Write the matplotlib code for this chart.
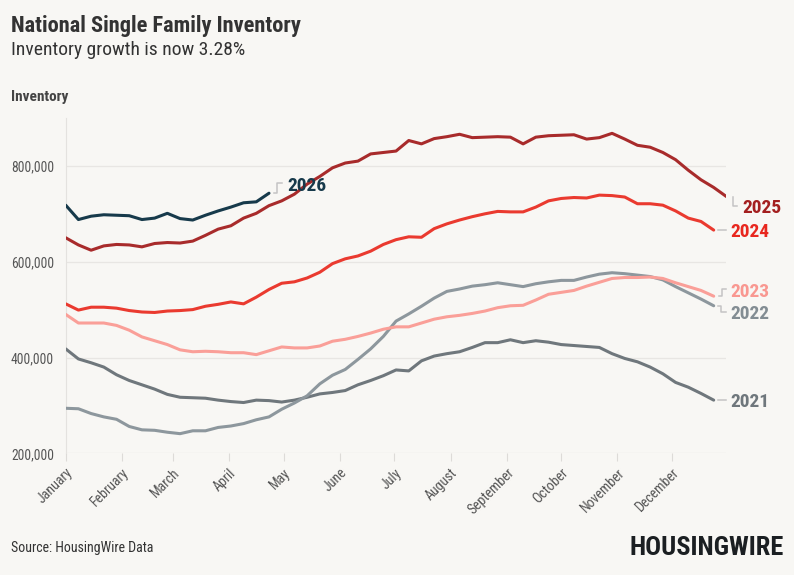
import matplotlib
matplotlib.use("Agg")
import matplotlib.pyplot as plt
from matplotlib import font_manager
from matplotlib.lines import Line2D
from matplotlib.ticker import FuncFormatter, FixedLocator
import matplotlib.dates as mdates
import pandas as pd
import numpy as np

# ---------------- data (thousands of homes, weekly) ----------------
inv_2021 = [418, 397, 389, 380, 364, 352, 343, 334, 323, 317, 316, 315, 311, 308, 306, 311,
            310, 307, 311, 317, 324, 327, 331, 343, 352, 362, 374, 372, 393, 403, 408, 412,
            421, 431, 431, 437, 431, 435, 432, 427, 425, 423, 421, 408, 398, 391, 380, 366,
            348, 338, 325, 311]
inv_2022 = [294, 293, 283, 276, 271, 256, 249, 248, 244, 241, 247, 247, 254, 257, 262, 270,
            276, 292, 305, 320, 345, 363, 375, 396, 418, 444, 476, 491, 507, 524, 538, 543,
            549, 552, 556, 552, 548, 554, 558, 561, 561, 568, 574, 577, 575, 572, 569, 562,
            548, 535, 522, 508]
inv_2023 = [490, 472, 472, 472, 467, 457, 443, 435, 427, 416, 412, 413, 412, 410, 410, 406,
            414, 422, 420, 420, 424, 434, 438, 444, 451, 459, 464, 464, 472, 480, 485, 488,
            492, 497, 504, 508, 509, 520, 532, 536, 540, 549, 557, 565, 567, 567, 568, 565,
            556, 548, 540, 528]
inv_2024 = [512, 499, 505, 505, 503, 498, 495, 494, 497, 498, 500, 507, 511, 516, 512, 526,
            542, 555, 558, 566, 578, 596, 606, 612, 622, 636, 646, 652, 651, 669, 679, 687,
            694, 700, 705, 704, 704, 714, 727, 732, 734, 733, 739, 738, 735, 721, 721, 718,
            706, 691, 684, 666]
inv_2025 = [650, 635, 624, 633, 636, 635, 631, 638, 640, 639, 643, 655, 668, 675, 691, 701,
            717, 727, 741, 762, 778, 796, 806, 810, 825, 828, 831, 853, 846, 857, 861, 866,
            859, 860, 861, 860, 846, 860, 863, 864, 865, 856, 859, 868, 856, 843, 839, 828,
            813, 791, 771, 755, 736]
inv_2026 = [718, 688, 695, 698, 697, 696, 688, 691, 701, 690, 687, 697, 706, 714, 723, 725,
            743]

years = ["2021", "2022", "2023", "2024", "2025", "2026"]
series = [inv_2021, inv_2022, inv_2023, inv_2024, inv_2025, inv_2026]
month_names = ["January", "February", "March", "April", "May", "June", "July",
               "August", "September", "October", "November", "December"]
y_ticks = [200000, 400000, 600000, 800000]

# ---------------- style ----------------
colors = {"2021": "#6f777c", "2022": "#8d979d", "2023": "#fa9f98",
          "2024": "#ea3a2f", "2025": "#a82b2b", "2026": "#173a4b"}
label_colors = {"2021": "#6f777c", "2022": "#838d93", "2023": "#f99891",
                "2024": "#e8271e", "2025": "#a31f1f", "2026": "#173a4b"}

names = {f.name for f in font_manager.fontManager.ttflist}
FONT = "Roboto Condensed" if "Roboto Condensed" in names else "Roboto"
plt.rcParams["font.family"] = [FONT, "DejaVu Sans"]

BG = "#f8f7f4"
W, H = 794, 575
fig = plt.figure(figsize=(W / 100, H / 100), dpi=100, facecolor=BG)

left_px, right_px, top_px, bot_px = 65.7, 726.4, 118, 453.3
ax = fig.add_axes([left_px / W, 1 - bot_px / H, (right_px - left_px) / W, (bot_px - top_px) / H])
ax.set_facecolor(BG)

start = pd.Timestamp("2021-01-01")
ax.set_xlim(start, pd.Timestamp("2021-12-31"))
ax.set_ylim(200000, 900000)

for yr, vals in zip(years, series):
    dates = pd.date_range(start, periods=len(vals), freq="7D")
    ax.plot(dates, np.array(vals) * 1000, color=colors[yr], lw=2.2,
            solid_capstyle="round", solid_joinstyle="round", zorder=3 if yr != "2026" else 4)

# axes styling
for s in ["top", "right", "bottom"]:
    ax.spines[s].set_visible(False)
ax.spines["left"].set_color("#e4e2df")
ax.spines["left"].set_linewidth(0.8)
ax.yaxis.set_major_locator(FixedLocator(y_ticks))
ax.yaxis.set_major_formatter(FuncFormatter(lambda v, p: f"{v:,.0f}"))
ax.grid(axis="y", color="#e8e6e3", lw=0.9)
ax.set_axisbelow(True)
ax.tick_params(axis="y", length=0, pad=8.4, labelsize=9.8, labelcolor="#555555")

ax.xaxis.set_major_locator(mdates.MonthLocator())
ax.xaxis.set_major_formatter(FuncFormatter(lambda v, p: month_names[mdates.num2date(v).month - 1]))
ax.tick_params(axis="x", length=6, width=0.8, color="#dddbd8", pad=3,
               labelsize=10, labelcolor="#555555")
for lab in ax.get_xticklabels():
    lab.set_rotation(45)
    lab.set_ha("right")
    lab.set_va("top")
    lab.set_rotation_mode("anchor")

# ---------------- end labels with step connectors ----------------
conn = {
    "2026": ([(5, 0), (8, 0), (8, -10), (13, -10)], (18, -9)),
    "2025": ([(7, 0), (7, 9.5), (11, 9.5)], (16, 9.6)),
    "2024": ([(4, 0), (12, 0)], (17, 0)),
    "2023": ([(5, 0), (8, 0), (8, -7), (12, -7)], (17, -6.5)),
    "2022": ([(4, 0), (7, 0), (7, 6.5), (12, 6.5)], (17, 6.5)),
    "2021": ([(4, 0), (12, 0)], (17, 0)),
}
fig.canvas.draw()
for yr, vals in zip(years, series):
    dates = pd.date_range(start, periods=len(vals), freq="7D")
    xd = mdates.date2num(dates[-1])
    px, py = ax.transData.transform((xd, vals[-1] * 1000))
    pts, (tx, ty) = conn[yr]
    xs = [(px + dx) / W for dx, dy in pts]
    ys = [(py - dy) / H for dx, dy in pts]
    fig.add_artist(Line2D(xs, ys, transform=fig.transFigure, color="#c4c4c4", lw=1.1))
    fig.text((px + tx) / W, (py - ty) / H, yr, color=label_colors[yr],
             fontsize=14, fontweight="bold", ha="left", va="center_baseline")

# ---------------- titles ----------------
fig.text(11 / W, 1 - 31.7 / H, "National Single Family Inventory", fontsize=16.1,
         fontweight="bold", color="#333333", ha="left", va="baseline")
fig.text(11 / W, 1 - 55 / H, "Inventory growth is now 3.28%", fontsize=14,
         color="#333333", ha="left", va="baseline")
fig.text(11 / W, 1 - 101.5 / H, "Inventory", fontsize=11, fontweight="bold",
         color="#444444", ha="left", va="baseline")
fig.text(11 / W, 1 - 552 / H, "Source: HousingWire Data", fontsize=10,
         color="#333333", ha="left", va="baseline")
fig.text(784 / W, 1 - 555 / H, "HOUSINGWIRE", fontsize=19, fontweight="heavy",
         color="#1b1f22", ha="right", va="baseline")

fig.savefig("out.png", dpi=100, facecolor=BG)
